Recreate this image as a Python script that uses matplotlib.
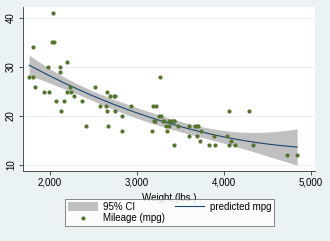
import matplotlib
matplotlib.use('Agg')
import matplotlib.pyplot as plt
import numpy as np

# auto data: weight (lbs.) and mileage (mpg)
weight = [2930, 3350, 2640, 3250, 4080, 3670, 2230, 3280, 3880, 3400,
          4330, 3900, 4290, 2110, 3690, 3180, 3220, 2750, 3430, 2120,
          3600, 3600, 3740, 1800, 2650, 4840, 4720, 3830, 2580, 4060,
          3720, 3370, 4130, 2830, 4060, 3310, 3300, 3690, 3370, 2730,
          4030, 3260, 1800, 2200, 2520, 3330, 3700, 3470, 3210, 3200,
          3420, 2690, 2830, 2070, 2650, 2370, 2020, 2280, 2750, 2130,
          2240, 1760, 1980, 3420, 1830, 2050, 2410, 2200, 2670, 2160,
          2040, 1930, 1990, 3170]
mpg = [22, 17, 22, 20, 15, 18, 26, 20, 16, 19,
       14, 14, 21, 29, 16, 22, 22, 24, 19, 30,
       18, 16, 17, 28, 21, 12, 12, 14, 22, 14,
       15, 18, 14, 20, 21, 19, 19, 18, 19, 24,
       16, 28, 34, 25, 26, 18, 18, 18, 19, 19,
       19, 24, 17, 23, 25, 23, 35, 24, 21, 21,
       25, 28, 30, 14, 26, 35, 18, 31, 18, 23,
       41, 25, 25, 17]

x = np.array(weight, dtype=float)
y = np.array(mpg, dtype=float)

# quadratic fit with 95% CI of the prediction (like qfitci)
X = np.column_stack([np.ones_like(x), x, x ** 2])
beta, *_ = np.linalg.lstsq(X, y, rcond=None)
resid = y - X @ beta
s2 = resid @ resid / (len(y) - 3)
XtXi = np.linalg.inv(X.T @ X)
xg = np.linspace(x.min(), x.max(), 200)
Xg = np.column_stack([np.ones_like(xg), xg, xg ** 2])
yg = Xg @ beta
se = np.sqrt(s2 * np.einsum('ij,jk,ik->i', Xg, XtXi, Xg))
t = 1.994
lo, hi = yg - t * se, yg + t * se

bg = '#EAF2F3'
plt.rcParams['font.family'] = ['Liberation Sans', 'DejaVu Sans']

fig = plt.figure(figsize=(3.3, 2.41), dpi=100, facecolor=bg)
ax = fig.add_axes([0.0697, 0.2905, 0.885, 0.68])
ax.set_facecolor('white')

ci = ax.fill_between(xg, lo, hi, color='#C0C0C0', lw=0, label='95% CI')
ln, = ax.plot(xg, yg, color='#1A476F', lw=0.8, label='predicted mpg')
pts = ax.scatter(x, y, s=9, color='#55752F', lw=0, label='Mileage (mpg)', zorder=3)

ax.set_xlim(1690, 5046)
ax.set_ylim(8.8, 42.2)
ax.set_xticks([2000, 3000, 4000, 5000])
ax.set_xticklabels(['2,000', '3,000', '4,000', '5,000'])
ax.set_yticks([10, 20, 30, 40])
ax.set_yticklabels(['10', '20', '30', '40'], rotation=90, va='center')
ax.tick_params(labelsize=7, length=3, width=0.6, color='#333333', pad=2)
ax.grid(axis='y', color=bg, lw=0.8)
ax.set_axisbelow(True)
for side in ['top', 'right']:
    ax.spines[side].set_visible(False)
for side in ['left', 'bottom']:
    ax.spines[side].set_color('#333333')
    ax.spines[side].set_linewidth(0.6)

ax.set_xlabel('Weight (lbs.)', fontsize=7, labelpad=3.5)

leg = fig.legend([ci, pts, ln], ['95% CI', 'Mileage (mpg)', 'predicted mpg'],
                 ncol=2, loc='center', bbox_to_anchor=(0.515, 0.118),
                 fontsize=7, frameon=True, fancybox=False, edgecolor='#555555',
                 handlelength=3.0, handleheight=0.9, columnspacing=1.0,
                 labelspacing=0.15, borderpad=0.3, borderaxespad=0,
                 handletextpad=0.6)
leg.get_frame().set_linewidth(0.6)
leg.get_frame().set_facecolor('white')

fig.savefig('out.png', dpi=100, facecolor=bg)
